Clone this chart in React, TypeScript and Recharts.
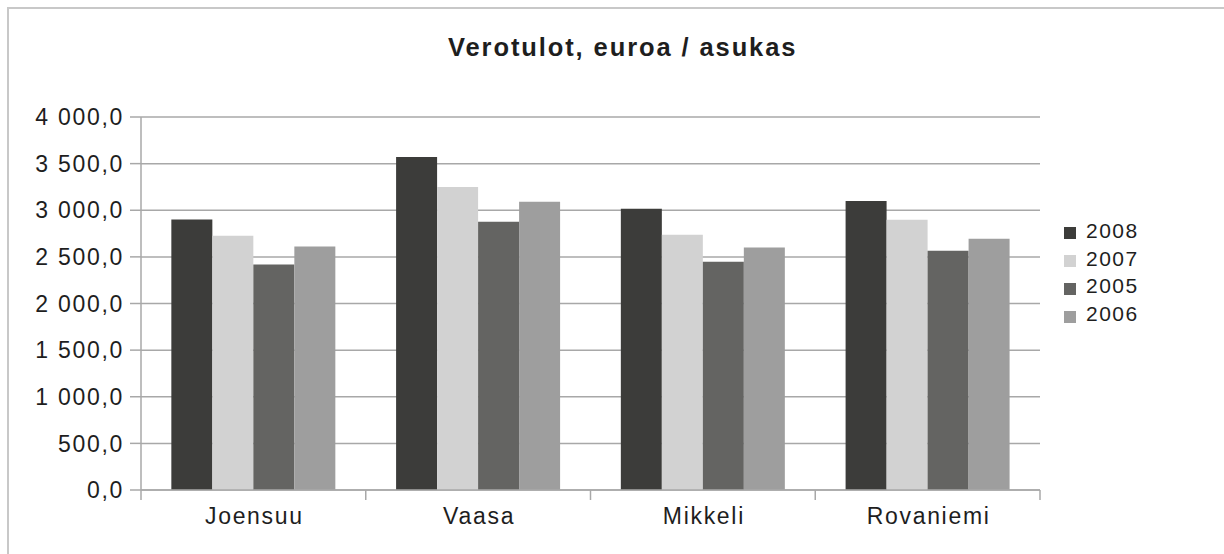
import React from 'react';
import { BarChart, Bar, XAxis, YAxis, CartesianGrid, Legend } from 'recharts';

const cities = ['Joensuu', 'Vaasa', 'Mikkeli', 'Rovaniemi'];
const v2008 = [2900, 3570, 3015, 3100];
const v2007 = [2727, 3250, 2738, 2898];
const v2005 = [2417, 2877, 2449, 2567];
const v2006 = [2610, 3090, 2600, 2695];
const yTicks = [0, 500, 1000, 1500, 2000, 2500, 3000, 3500, 4000];

const seriesKeys = ['2008', '2007', '2005', '2006'];
const colors: Record<string, string> = {
  '2008': '#3c3c3a',
  '2007': '#d2d2d2',
  '2005': '#646462',
  '2006': '#9e9e9e',
};

const data = cities.map((c, i) => ({
  city: c,
  '2008': v2008[i],
  '2007': v2007[i],
  '2005': v2005[i],
  '2006': v2006[i],
}));

const W = 1224;
const H = 554;
const MARGIN = { top: 117, right: 184, bottom: 24, left: 41 };
const Y_W = 100;
const X_H = 40;
const PLOT_W = W - MARGIN.left - Y_W - MARGIN.right;
const FONT = '"Liberation Sans", Arial, Helvetica, sans-serif';
const TEXT = '#1e1e1e';
const GRID = '#a8a8a8';

const fmt = (v: number) => {
  const s = v.toFixed(1).replace('.', ',');
  const [ip, dp] = s.split(',');
  const withSp = ip.replace(/\B(?=(\d{3})+(?!\d))/g, ' ');
  return withSp + ',' + dp;
};

const XTick = (props: any) => {
  const { x, y, payload, index } = props;
  const bw = PLOT_W / cities.length;
  const axisY = y - 18;
  return (
    <g>
      <line x1={x - bw / 2} x2={x - bw / 2} y1={axisY} y2={axisY + 10} stroke={GRID} strokeWidth={1.5} />
      {index === cities.length - 1 && (
        <line x1={x + bw / 2} x2={x + bw / 2} y1={axisY} y2={axisY + 10} stroke={GRID} strokeWidth={1.5} />
      )}
      <text x={x + 1} y={y} dy="0.71em" textAnchor="middle" fontFamily={FONT} fontSize={23} fill={TEXT} letterSpacing={1.7}>
        {payload.value}
      </text>
    </g>
  );
};

const LegendContent = () => (
  <div style={{ fontFamily: FONT, fontSize: 21, color: TEXT, letterSpacing: 1.5 }}>
    {seriesKeys.map((k) => (
      <div key={k} style={{ height: 27.8, display: 'flex', alignItems: 'center' }}>
        <span style={{ display: 'inline-block', width: 12, height: 12, background: colors[k], marginRight: 10, marginTop: 5 }} />
        <span>{k}</span>
      </div>
    ))}
  </div>
);

export default function App() {
  return (
    <div style={{ position: 'absolute', left: 0, top: 0, width: W, height: H, background: '#fff', overflow: 'hidden' }}>
      <div
        style={{
          position: 'absolute',
          left: 7,
          top: 7,
          width: W - 7,
          height: H - 7,
          borderTop: '2px solid #c8c8c8',
          borderLeft: '2px solid #c8c8c8',
          boxSizing: 'border-box',
        }}
      />
      <div
        style={{
          position: 'absolute',
          left: 0,
          top: 35,
          width: 1245.4,
          textAlign: 'center',
          fontFamily: FONT,
          fontWeight: 'bold',
          fontSize: 25.5,
          lineHeight: '25.5px',
          letterSpacing: 1.9,
          color: TEXT,
          whiteSpace: 'nowrap',
        }}
      >
        Verotulot, euroa / asukas
      </div>
      <div style={{ position: 'absolute', left: 0, top: 0 }}>
        <BarChart width={W} height={H} data={data} margin={MARGIN} barCategoryGap="13.5%" barGap={0}>
          <CartesianGrid vertical={false} stroke={GRID} strokeWidth={1.5} />
          <XAxis
            dataKey="city"
            height={X_H}
            axisLine={{ stroke: GRID, strokeWidth: 1.5 }}
            tickLine={false}
            tickSize={0}
            tickMargin={18}
            tick={<XTick />}
            interval={0}
          />
          <YAxis
            width={Y_W}
            domain={[0, 4000]}
            ticks={yTicks}
            interval={0}
            tickFormatter={fmt}
            axisLine={{ stroke: GRID, strokeWidth: 1.5 }}
            tickLine={{ stroke: GRID, strokeWidth: 1.5 }}
            tickSize={11}
            tickMargin={6}
            tick={{ fontFamily: FONT, fontSize: 23, fill: TEXT, letterSpacing: 1.7 }}
          />
          <Legend
            layout="horizontal"
            verticalAlign="middle"
            align="center"
            content={<LegendContent />}
            wrapperStyle={{ position: 'absolute', left: 1064, top: 217, width: 120 }}
          />
          {seriesKeys.map((k) => (
            <Bar key={k} dataKey={k} fill={colors[k]} isAnimationActive={false} />
          ))}
        </BarChart>
      </div>
    </div>
  );
}
